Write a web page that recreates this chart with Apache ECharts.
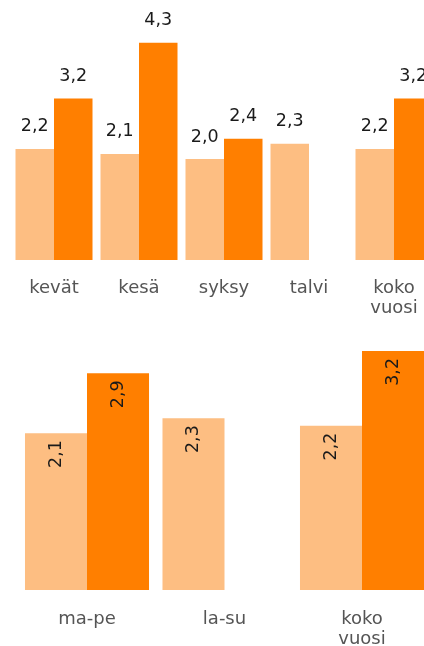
<!DOCTYPE html>
<html>
<head>
<meta charset="utf-8">
<script src="https://cdn.jsdelivr.net/npm/echarts@6/dist/echarts.min.js"></script>
<style>html,body{margin:0;padding:0;background:#fff}#c{width:424px;height:646px}</style>
</head>
<body>
<div id="c"></div>
<script>
const topCategories = ['kevät', 'kesä', 'syksy', 'talvi', 'koko\nvuosi'];
const topLight = [2.2, 2.1, 2.0, 2.3, 2.2];
const topDark = [3.2, 4.3, 2.4, null, 3.2];

const bottomCategories = ['ma-pe', 'la-su', 'koko\nvuosi'];
const bottomLight = [2.1, 2.3, 2.2];
const bottomDark = [2.9, null, 3.2];

const LIGHT = '#FDBE82';
const DARK = '#FF7F00';
const FONT = '"DejaVu Sans", Verdana, sans-serif';
const fmt = p => (p.value == null ? '' : p.value.toFixed(1).replace('.', ','));

const chart = echarts.init(document.getElementById('c'), null, { renderer: 'canvas' });

const xAxisBase = {
  type: 'category',
  axisLine: { show: false },
  axisTick: { show: false },
  splitLine: { show: false },
  axisLabel: { color: '#555', fontSize: 18, lineHeight: 20, fontFamily: FONT, interval: 0, hideOverlap: false }
};
const yAxisBase = { type: 'value', min: 0, show: false, splitLine: { show: false } };

const topLabel = { show: true, position: 'top', distance: 13, formatter: fmt, color: '#1a1a1a', fontSize: 17.5, fontFamily: FONT };
const botLabel = { show: true, position: 'insideTop', rotate: 90, align: 'right', verticalAlign: 'middle', distance: 7, formatter: fmt, color: '#1a1a1a', fontSize: 17.5, fontFamily: FONT };

chart.setOption({
  animation: false,
  backgroundColor: '#fff',
  grid: [
    { left: 11.5, top: 7.5, width: 425, height: 252.5, outerBoundsMode: 'none', containLabel: false },
    { left: 18.25, top: 291.2, width: 412.5, height: 298.8, outerBoundsMode: 'none', containLabel: false }
  ],
  xAxis: [
    Object.assign({}, xAxisBase, { gridIndex: 0, data: topCategories, axisLabel: Object.assign({}, xAxisBase.axisLabel, { margin: 18 }) }),
    Object.assign({}, xAxisBase, { gridIndex: 1, data: bottomCategories, axisLabel: Object.assign({}, xAxisBase.axisLabel, { margin: 19 }) })
  ],
  yAxis: [
    Object.assign({}, yAxisBase, { gridIndex: 0, max: 5 }),
    Object.assign({}, yAxisBase, { gridIndex: 1, max: 4 })
  ],
  series: [
    { type: 'bar', xAxisIndex: 0, yAxisIndex: 0, data: topLight, itemStyle: { color: LIGHT }, barGap: 0, barCategoryGap: '9.4%', label: topLabel },
    { type: 'bar', xAxisIndex: 0, yAxisIndex: 0, data: topDark, itemStyle: { color: DARK }, barGap: 0, barCategoryGap: '9.4%', label: topLabel },
    { type: 'bar', xAxisIndex: 1, yAxisIndex: 1, data: bottomLight, itemStyle: { color: LIGHT }, barGap: 0, barCategoryGap: '9.8%', label: botLabel },
    { type: 'bar', xAxisIndex: 1, yAxisIndex: 1, data: bottomDark, itemStyle: { color: DARK }, barGap: 0, barCategoryGap: '9.8%', label: botLabel }
  ]
});
</script>
</body>
</html>
